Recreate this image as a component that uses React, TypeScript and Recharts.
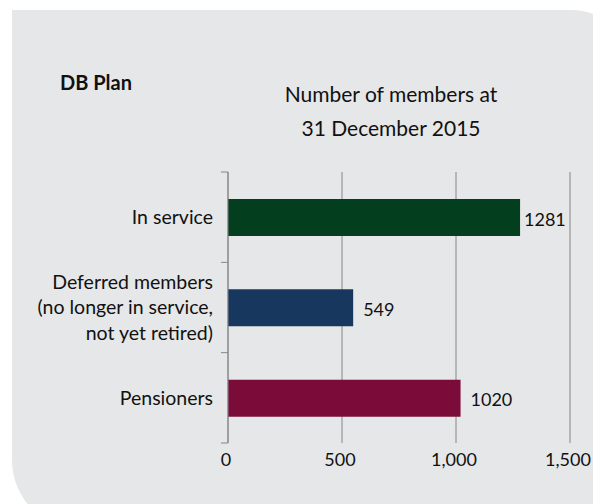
import { BarChart, Bar, XAxis, YAxis, CartesianGrid, LabelList, Cell } from "recharts";

const categories = [
  "In service",
  "Deferred members\n(no longer in service,\nnot yet retired)",
  "Pensioners",
];
const members = [1281, 549, 1020];
const barColors = ["#033f1f", "#17375e", "#7b0c3a"];
const xTicks = [0, 500, 1000, 1500];
const xMax = 1500;

const data = categories.map((name, i) => ({ name, members: members[i] }));

const FONT = "Lato, 'Open Sans', sans-serif";
const AXIS_GRAY = "#868686";

// category label + boundary tick marks (ticks sit between bands, not at centres)
function CategoryTick(props: any) {
  const { x, y, payload, index } = props;
  const half = payload?.offset || 45;
  const lines = String(payload.value).split("\n");
  const lineH = 25.5;
  const startY = y - ((lines.length - 1) * lineH) / 2;
  return (
    <g>
      <text textAnchor="end" fontSize={19.5} fill="#111" fontFamily={FONT}>
        {lines.map((l, i) => (
          <tspan key={i} x={x - 15} y={startY + i * lineH} dy="0.35em">
            {l}
          </tspan>
        ))}
      </text>
      <line x1={x - 7} x2={x} y1={y - half} y2={y - half} stroke={AXIS_GRAY} />
      {index === categories.length - 1 && (
        <line x1={x - 7} x2={x} y1={y + half} y2={y + half} stroke={AXIS_GRAY} />
      )}
    </g>
  );
}

// value label to the right of the bar, pulled back inside the plot if it would overflow
function ValueLabel(props: any) {
  const { x, y, width, height, value } = props;
  const plotRight = x + (xMax * width) / value;
  const textW = String(value).length * 10.5;
  const left = Math.min(x + width + 10, plotRight - 4 - textW);
  return (
    <text
      x={left}
      y={y + height / 2 + 2}
      dy="0.35em"
      fontSize={18}
      fill="#111"
      fontFamily={FONT}
    >
      {value}
    </text>
  );
}

export default function App() {
  return (
    <div
      style={{
        position: "absolute",
        left: 0,
        top: 0,
        width: 593,
        height: 504,
        background: "#fff",
        overflow: "hidden",
        fontFamily: FONT,
      }}
    >
      <div
        style={{
          position: "absolute",
          left: 12,
          top: 10,
          width: 620,
          height: 520,
          background: "#e6e7e8",
          borderTopRightRadius: 60,
          borderBottomLeftRadius: 70,
        }}
      />
      <div
        style={{
          position: "absolute",
          left: 60,
          top: 70,
          fontSize: 20,
          fontWeight: 700,
          color: "#111",
        }}
      >
        DB Plan
      </div>
      <div
        style={{
          position: "absolute",
          left: 241,
          width: 300,
          top: 77,
          fontSize: 21,
          lineHeight: "34px",
          textAlign: "center",
          color: "#111",
        }}
      >
        Number of members at
        <br />
        31 December 2015
      </div>
      <div style={{ position: "absolute", left: 0, top: 0 }}>
        <BarChart
          width={593}
          height={504}
          data={data}
          layout="vertical"
          margin={{ top: 172, right: 23, bottom: 31, left: 0 }}
          barSize={37}
        >
          <CartesianGrid horizontal={false} stroke={AXIS_GRAY} />
          <XAxis
            type="number"
            domain={[0, xMax]}
            ticks={xTicks}
            axisLine={false}
            tickLine={false}
            tickSize={0}
            tickMargin={10}
            height={30}
            tickFormatter={(v: number) => v.toLocaleString("en-US")}
            tick={{ fontSize: 18, fill: "#111", fontFamily: FONT, dx: -2 }}
          />
          <YAxis
            type="category"
            dataKey="name"
            width={228}
            axisLine={{ stroke: AXIS_GRAY }}
            tickLine={false}
            tickSize={0}
            tickMargin={0}
            interval={0}
            tick={<CategoryTick />}
          />
          <Bar dataKey="members" isAnimationActive={false}>
            {data.map((d, i) => (
              <Cell key={d.name} fill={barColors[i]} />
            ))}
            <LabelList dataKey="members" content={<ValueLabel />} />
          </Bar>
        </BarChart>
      </div>
    </div>
  );
}
